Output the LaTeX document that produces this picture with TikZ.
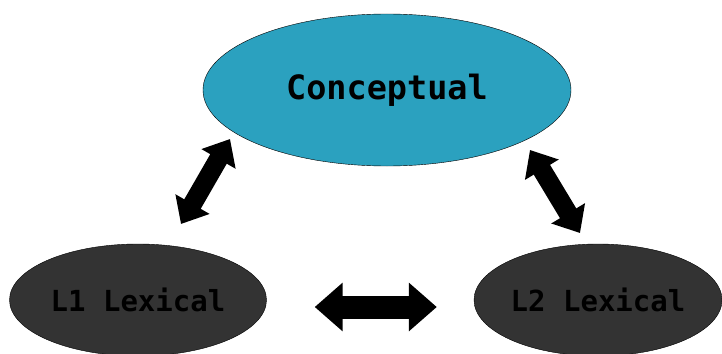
\documentclass[tikz,border=0pt]{standalone}
\usepackage{fontspec}
\newfontfamily\nodefont{DejaVu Sans Mono}
\definecolor{concblue}{RGB}{43,161,191}
\definecolor{lexgray}{RGB}{51,51,51}
\usetikzlibrary{arrows.meta,shapes.geometric}

\begin{document}
\begin{tikzpicture}[x=1pt, y=-1pt,
    conceptnode/.style={ellipse, draw=black, thin, fill=concblue, inner sep=0pt,
      minimum width=368pt, minimum height=152pt, font=\nodefont\bfseries\fontsize{33.5}{36}\selectfont},
    lexnode/.style={ellipse, draw=black, thin, fill=lexgray, inner sep=0pt,
      minimum height=112pt, font=\nodefont\bfseries\fontsize{29}{32}\selectfont},
    linkarrow/.style={line width=19pt, {Triangle[length=23pt,width=38pt]}-{Triangle[length=23pt,width=38pt]}},
    widearrow/.style={line width=23pt, {Triangle[length=28pt,width=47pt]}-{Triangle[length=28pt,width=47pt]}}]
  \useasboundingbox (0,0) rectangle (722,353);

  % Nodes
  \node[conceptnode] (conc) at (387,90) {Conceptual};
  \node[lexnode, minimum width=257pt] (lone) at (138,300) {L1 Lexical};
  \node[lexnode, minimum width=248pt] (ltwo) at (598,300) {L2 Lexical};

  % Arrow ends
  \coordinate (lone-up) at (181,224);
  \coordinate (conc-left) at (230,139);
  \coordinate (conc-right) at (530,150);
  \coordinate (ltwo-up) at (580,233);

  % Links
  \draw[linkarrow] (lone-up) -- (conc-left);
  \draw[linkarrow] (conc-right) -- (ltwo-up);
  \draw[widearrow, shorten <=48pt, shorten >=37pt] ([yshift=-7pt]lone.east) -- ([yshift=-7pt]ltwo.west);
\end{tikzpicture}
\end{document}
